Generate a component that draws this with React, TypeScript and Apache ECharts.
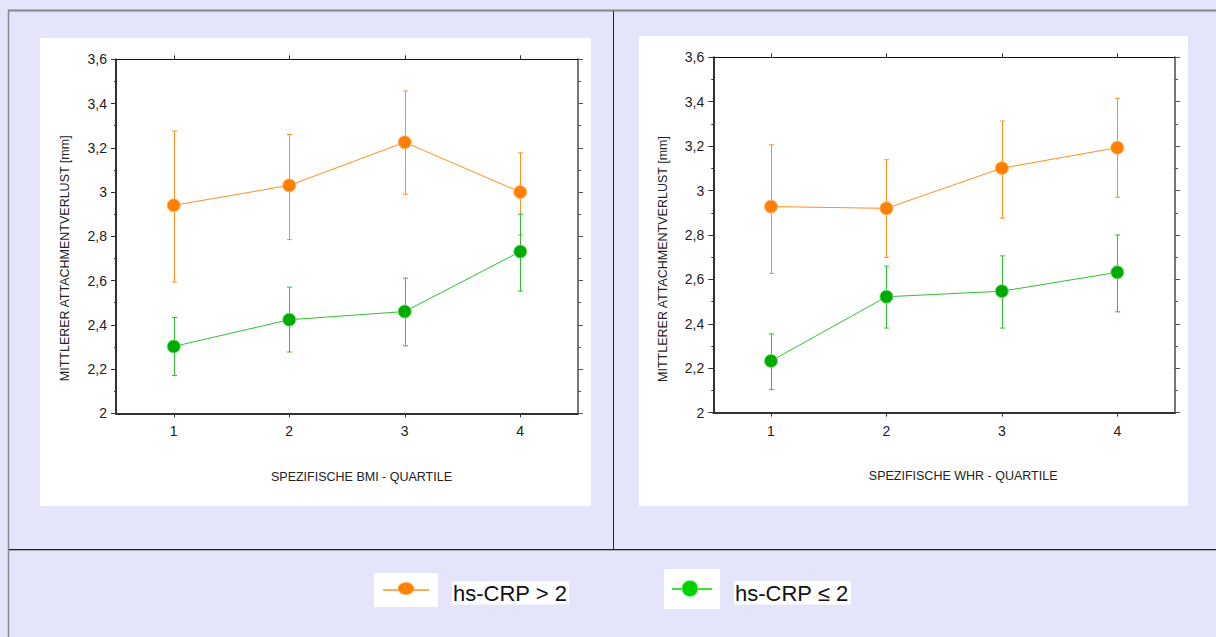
import React, { useEffect, useRef } from "react";
import * as echarts from "echarts";

const categories = ["1", "2", "3", "4"];
const yTicksMin = 2;
const yTicksMax = 3.6;
const yTickStep = 0.2;

const seriesHighName = "hs-CRP > 2";
const seriesLowName = "hs-CRP ≤ 2";

// BMI panel
const bmiHigh = [2.94, 3.03, 3.225, 3.0];
const bmiHighLower = [2.593, 2.785, 2.99, 2.805];
const bmiHighUpper = [3.276, 3.26, 3.457, 3.177];
const bmiLow = [2.302, 2.423, 2.46, 2.731];
const bmiLowLower = [2.171, 2.277, 2.305, 2.552];
const bmiLowUpper = [2.433, 2.57, 2.611, 2.9];

// WHR panel
const whrHigh = [2.928, 2.92, 3.101, 3.193];
const whrHighLower = [2.627, 2.699, 2.876, 2.97];
const whrHighUpper = [3.206, 3.139, 3.313, 3.415];
const whrLow = [2.233, 2.522, 2.547, 2.632];
const whrLowLower = [2.105, 2.381, 2.381, 2.454];
const whrLowUpper = [2.355, 2.66, 2.706, 2.8];

const yTitle = "MITTLERER ATTACHMENTVERLUST [mm]";
const xTitleBmi = "SPEZIFISCHE BMI - QUARTILE";
const xTitleWhr = "SPEZIFISCHE WHR - QUARTILE";

const ORANGE = "#FF8000";
const ORANGE_LINE = "#FF9020";
const ORANGE_RING = "#FFB870";
const GREEN = "#00AA00";
const GREEN_LINE = "#30C030";
const GREEN_RING = "#70E070";
const LAVENDER = "#E4E4FA";
const FONT = "'Liberation Sans', Arial, sans-serif";

const fmt = (v: number) => (Math.round(v * 10) / 10).toString().replace(".", ",");

function errorSeries(lows: number[], ups: number[], color: string, axis: number) {
  return {
    type: "custom",
    xAxisIndex: axis,
    yAxisIndex: axis,
    z: 1,
    silent: true,
    data: lows.map((l, i) => [i, l, ups[i]]),
    renderItem: (params: any, api: any) => {
      const x = api.value(0);
      const lo = api.coord([x, api.value(1)]);
      const hi = api.coord([x, api.value(2)]);
      const cx = Math.round(lo[0]) + 0.5;
      const hw = 2.5;
      const style = { stroke: color, lineWidth: 1 };
      return {
        type: "group",
        children: [
          { type: "line", shape: { x1: cx, y1: lo[1], x2: cx, y2: hi[1] }, style },
          { type: "line", shape: { x1: cx - hw, y1: lo[1], x2: cx + hw, y2: lo[1] }, style },
          { type: "line", shape: { x1: cx - hw, y1: hi[1], x2: cx + hw, y2: hi[1] }, style },
        ],
      };
    },
  };
}

function lineSeries(name: string, data: number[], color: string, lineColor: string, ring: string, axis: number) {
  return {
    type: "line",
    name,
    xAxisIndex: axis,
    yAxisIndex: axis,
    data,
    z: 3,
    symbol: "circle",
    symbolSize: 13,
    lineStyle: { color: lineColor, width: 1 },
    itemStyle: { color, borderColor: ring, borderWidth: 1 },
  };
}

function xAxes(grid: number, title: string, shift: number) {
  return [
    {
      type: "category",
      gridIndex: grid,
      data: categories,
      boundaryGap: true,
      axisLine: { show: true, lineStyle: { color: "#333", width: 2 } },
      axisTick: { show: true, alignWithLabel: true, length: 4, lineStyle: { color: "#333" } },
      axisLabel: { fontSize: 14, color: "#222", margin: 11, fontFamily: FONT },
      splitLine: { show: false },
      name: title,
      nameLocation: "middle",
      nameGap: 57,
      nameTextStyle: { fontSize: 12.5, color: "#222", fontFamily: FONT, padding: [0, 0, 0, shift] },
    },
    {
      type: "category",
      gridIndex: grid,
      position: "top",
      data: categories,
      boundaryGap: true,
      axisLine: { show: true, lineStyle: { color: "#111", width: 1 } },
      axisTick: { show: true, alignWithLabel: true, length: 4, lineStyle: { color: "#333" } },
      axisLabel: { show: false },
      splitLine: { show: false },
    },
  ];
}

function yAxes(grid: number, gap: number, shift: number) {
  return [
    {
      type: "value",
      gridIndex: grid,
      min: yTicksMin,
      max: yTicksMax,
      interval: yTickStep,
      axisLine: { show: true, lineStyle: { color: "#333", width: 2 } },
      axisTick: { show: true, length: 5, lineStyle: { color: "#333" } },
      minorTick: { show: true, splitNumber: 2, length: 2, lineStyle: { color: "#333" } },
      splitLine: { show: false },
      axisLabel: { fontSize: 14, color: "#222", margin: 9, fontFamily: FONT, formatter: fmt },
      name: yTitle,
      nameLocation: "middle",
      nameGap: gap,
      nameTextStyle: { fontSize: 12.5, color: "#222", fontFamily: FONT, padding: [0, shift, 0, 0] },
    },
    {
      type: "value",
      gridIndex: grid,
      position: "right",
      min: yTicksMin,
      max: yTicksMax,
      interval: yTickStep,
      axisLine: { show: true, lineStyle: { color: "#777", width: 2 } },
      axisTick: { show: true, length: 5, lineStyle: { color: "#555" } },
      minorTick: { show: true, splitNumber: 2, length: 3, lineStyle: { color: "#555" } },
      splitLine: { show: false },
      axisLabel: { show: false },
    },
  ];
}

export default function App() {
  const ref = useRef<HTMLDivElement>(null);
  useEffect(() => {
    if (!ref.current) return;
    const chart = echarts.init(ref.current, undefined, { renderer: "svg" });
    const option: any = {
      animation: false,
      backgroundColor: LAVENDER,
      textStyle: { fontFamily: FONT },
      grid: [
        { left: 116, top: 59.3, width: 462, height: 354 },
        { left: 713.3, top: 57.3, width: 461.7, height: 355.4 },
      ],
      xAxis: [...xAxes(0, xTitleBmi, 29), ...xAxes(1, xTitleWhr, 38)],
      yAxis: [...yAxes(0, 45, 44), ...yAxes(1, 44, 48)],
      series: [
        errorSeries(bmiHighLower, bmiHighUpper, ORANGE_LINE, 0),
        errorSeries(bmiLowLower, bmiLowUpper, GREEN_LINE, 0),
        lineSeries(seriesHighName, bmiHigh, ORANGE, ORANGE_LINE, ORANGE_RING, 0),
        lineSeries(seriesLowName, bmiLow, GREEN, GREEN_LINE, GREEN_RING, 0),
        errorSeries(whrHighLower, whrHighUpper, ORANGE_LINE, 2),
        errorSeries(whrLowLower, whrLowUpper, GREEN_LINE, 2),
        lineSeries(seriesHighName, whrHigh, ORANGE, ORANGE_LINE, ORANGE_RING, 2),
        lineSeries(seriesLowName, whrLow, GREEN, GREEN_LINE, GREEN_RING, 2),
      ],
      graphic: [
        { type: "rect", z: -20, shape: { x: 40, y: 38, width: 551, height: 468 }, style: { fill: "#fff" } },
        { type: "rect", z: -20, shape: { x: 639, y: 36, width: 549, height: 470 }, style: { fill: "#fff" } },
        { type: "line", z: -10, shape: { x1: 8, y1: 10.5, x2: 1216, y2: 10.5 }, style: { stroke: "#888", lineWidth: 2 } },
        { type: "line", z: -10, shape: { x1: 8.5, y1: 10, x2: 8.5, y2: 637 }, style: { stroke: "#888", lineWidth: 1.5 } },
        { type: "line", z: -10, shape: { x1: 613.5, y1: 11, x2: 613.5, y2: 549 }, style: { stroke: "#222", lineWidth: 1 } },
        { type: "line", z: -10, shape: { x1: 9, y1: 549.5, x2: 1216, y2: 549.5 }, style: { stroke: "#222", lineWidth: 1 } },
        { type: "line", z: -10, shape: { x1: 9, y1: 550.5, x2: 1216, y2: 550.5 }, style: { stroke: "#aaa", lineWidth: 1 } },
        // legend item 1
        { type: "rect", shape: { x: 374, y: 573, width: 64, height: 34 }, style: { fill: "#fff" } },
        { type: "line", shape: { x1: 383, y1: 590, x2: 429, y2: 590 }, style: { stroke: ORANGE_LINE, lineWidth: 1.5 } },
        { type: "ellipse", shape: { cx: 406, cy: 588.5, rx: 8, ry: 6 }, style: { fill: ORANGE, stroke: ORANGE_RING, lineWidth: 1 } },
        { type: "rect", shape: { x: 452, y: 581.5, width: 117, height: 23 }, style: { fill: "#fff" } },
        { type: "text", x: 453, y: 593, style: { text: seriesHighName, font: `22px ${FONT}`, fill: "#111", verticalAlign: "middle", align: "left" } },
        // legend item 2
        { type: "rect", shape: { x: 664, y: 569, width: 56, height: 40 }, style: { fill: "#fff" } },
        { type: "line", shape: { x1: 672, y1: 589, x2: 712, y2: 589 }, style: { stroke: "#00CC00", lineWidth: 1.5 } },
        { type: "circle", shape: { cx: 690, cy: 588.5, r: 8 }, style: { fill: "#00D000", stroke: "#80F080", lineWidth: 1 } },
        { type: "rect", shape: { x: 734, y: 581, width: 117, height: 23.5 }, style: { fill: "#fff" } },
        { type: "text", x: 735, y: 593, style: { text: seriesLowName, font: `22px ${FONT}`, fill: "#111", verticalAlign: "middle", align: "left" } },
      ],
    };
    chart.setOption(option);
    return () => chart.dispose();
  }, []);
  return <div ref={ref} style={{ position: "fixed", left: 0, top: 0, width: 1216, height: 637 }} />;
}
